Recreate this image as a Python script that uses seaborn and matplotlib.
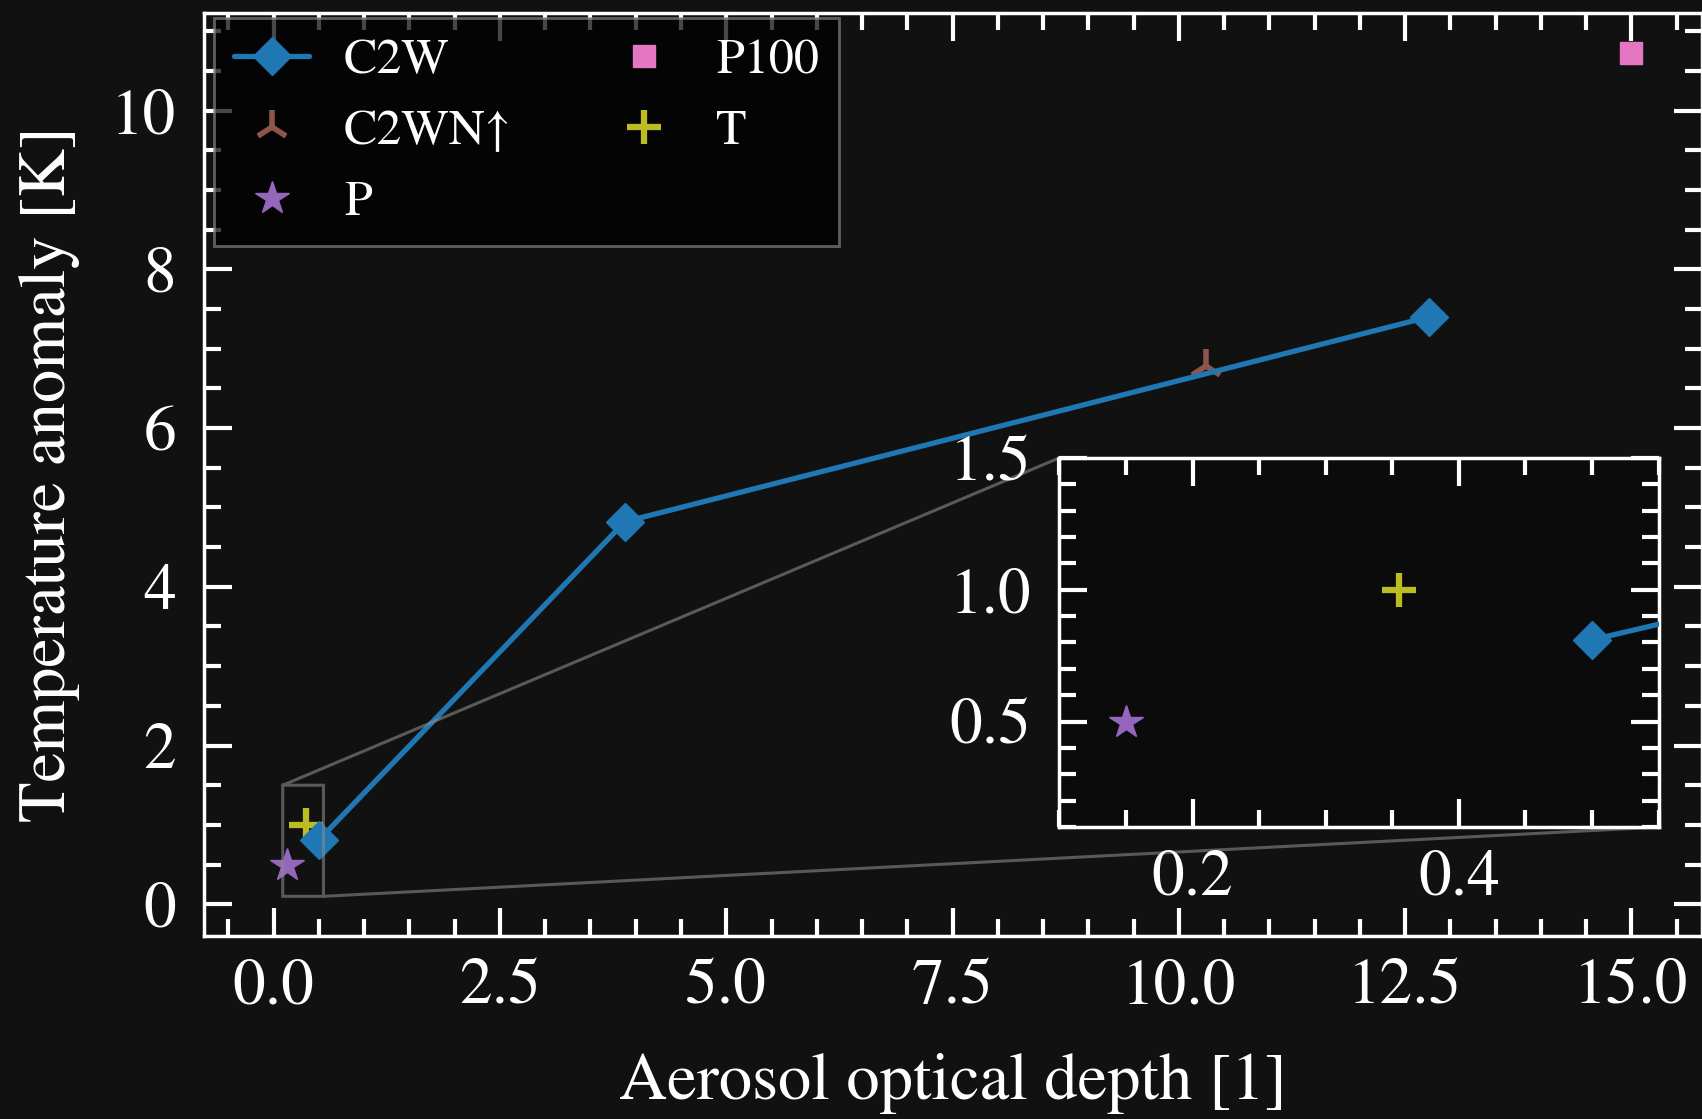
import matplotlib
matplotlib.use("Agg")
import matplotlib.pyplot as plt
from matplotlib.ticker import MultipleLocator
import seaborn as sns

# ---------------- data ----------------
c2w_aod = [0.5, 3.88, 12.76]
c2w_temp = [0.81, 4.82, 7.40]
c2wn_aod = [10.30]
c2wn_temp = [6.78]
p_aod = [0.15]
p_temp = [0.50]
p100_aod = [15.0]
p100_temp = [10.72]
t_aod = [0.355]
t_temp = [1.0]

labels = ["C2W", "C2WN\u2191", "P", "P100", "T"]
colors = ["#1f77b4", "#8c564b", "#9467bd", "#e377c2", "#bcbd22"]

BG = "#111111"
sns.set_style("dark")
plt.rcParams["font.family"] = ["STIXGeneral", "Liberation Serif", "DejaVu Serif"]
plt.rcParams["axes.unicode_minus"] = False

W, H = 1702, 1119
fig = plt.figure(figsize=(W / 100, H / 100), dpi=100, facecolor=BG)
L, R, T, B = 204, 1702, 13, 936
ax = fig.add_axes([L / W, 1 - B / H, (R - L) / W, (B - T) / H])
ax.set_facecolor(BG)


def draw(a, lw=3.8):
    sns.lineplot(x=c2w_aod, y=c2w_temp, ax=a, color=colors[0], marker="D",
                 markersize=19, markeredgecolor=colors[0], markeredgewidth=1,
                 linewidth=lw, label=labels[0], zorder=3)
    sns.lineplot(x=c2wn_aod, y=c2wn_temp, ax=a, color=colors[1], marker="2",
                 markersize=25, markeredgecolor=colors[1], markeredgewidth=4,
                 linestyle="", label=labels[1], zorder=2)
    sns.lineplot(x=p_aod, y=p_temp, ax=a, color=colors[2], marker="*",
                 markersize=25, markeredgecolor=colors[2], markeredgewidth=1,
                 linestyle="", label=labels[2], zorder=2)
    sns.lineplot(x=p100_aod, y=p100_temp, ax=a, color=colors[3], marker="s",
                 markersize=16, markeredgecolor=colors[3], markeredgewidth=1,
                 linestyle="", label=labels[3], zorder=2)
    sns.lineplot(x=t_aod, y=t_temp, ax=a, color=colors[4], marker="+",
                 markersize=24, markeredgecolor=colors[4], markeredgewidth=4.5,
                 linestyle="", label=labels[4], zorder=2)


def style(a, xmaj, xmin, ymaj, ymin, xpad, ypad):
    a.xaxis.set_major_locator(MultipleLocator(xmaj))
    a.xaxis.set_minor_locator(MultipleLocator(xmin))
    a.yaxis.set_major_locator(MultipleLocator(ymaj))
    a.yaxis.set_minor_locator(MultipleLocator(ymin))
    a.tick_params(which="both", direction="in", top=True, right=True,
                  bottom=True, left=True, color="white", labelcolor="white",
                  labelsize=47)
    a.tick_params(which="major", length=20, width=3)
    a.tick_params(which="minor", length=12, width=3)
    a.tick_params(axis="x", which="major", pad=xpad)
    a.tick_params(axis="y", which="major", pad=ypad)
    for s in a.spines.values():
        s.set_color("white")
        s.set_linewidth(2.5)
        s.set_visible(True)
    a.grid(False)


draw(ax)
ax.set_xlim(-0.77, 15.78)
ax.set_ylim(-0.40, 11.23)
style(ax, 2.5, 0.5, 2, 0.5, 16, 20)
ax.set_xlabel("Aerosol optical depth [1]", fontsize=48, color="white", labelpad=26)
ax.set_ylabel("Temperature anomaly [K]", fontsize=48, color="white", labelpad=22)

leg = ax.legend(ncol=2, loc="upper left",
                bbox_to_anchor=((214 - L) / (R - L), 1 - (18 - T) / (B - T)),
                borderaxespad=0, fontsize=36, frameon=True, fancybox=False,
                facecolor="black", edgecolor="#808080", framealpha=0.72,
                labelcolor="white", handlelength=1.5, handletextpad=0.7,
                columnspacing=1.9, labelspacing=0.5)
leg.get_frame().set_linewidth(2)

# ---------------- inset ----------------
axins = ax.inset_axes([0.571, 0.118, 0.40, 0.40])
axins.set_facecolor("#0b0b0b")
draw(axins)
axins.set_xlim(0.1, 0.55)
axins.set_ylim(0.1, 1.5)
style(axins, 0.2, 0.05, 0.5, 0.1, 16, 20)
axins.set_xlabel("")
axins.set_ylabel("")
if axins.get_legend() is not None:
    axins.get_legend().remove()
axins.set_xticks([0.2, 0.4])
axins.set_yticks([0.5, 1.0, 1.5])

ax.indicate_inset_zoom(axins, edgecolor="#8a8a8a", alpha=0.6, linewidth=2.2)

fig.savefig("out.png", dpi=100, facecolor=BG)
